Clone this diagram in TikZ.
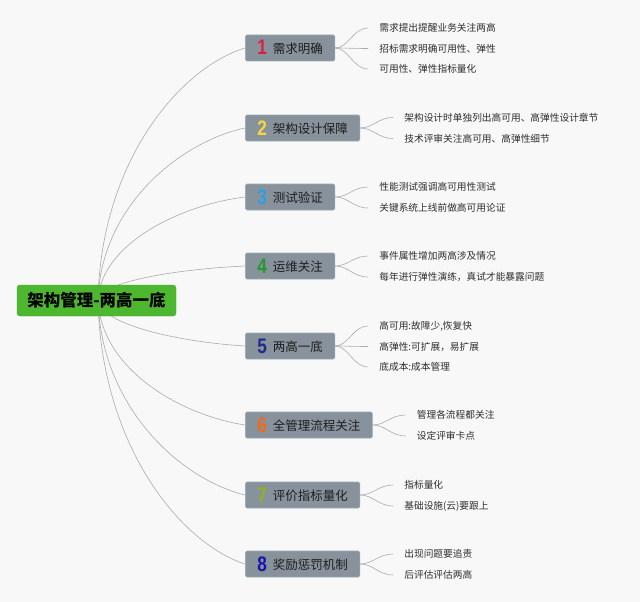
\documentclass[tikz,border=0pt]{standalone}
\usepackage{fontspec}
\usepackage{graphicx}
\setmainfont{Noto Sans CJK SC}
\newfontfamily\numfont{Liberation Sans}
\usetikzlibrary{calc}
\definecolor{bgcol}{HTML}{F8F8F8}
\definecolor{boxfill}{HTML}{87929D}
\definecolor{boxedge}{HTML}{9AABB0}
\definecolor{boxtext}{HTML}{1E1E1E}
\definecolor{leaftext}{HTML}{2E2E2E}
\definecolor{linecol}{HTML}{ABABAB}
\definecolor{rootfill}{HTML}{4DB82F}
\definecolor{rootedge}{HTML}{43A828}
\definecolor{dA}{HTML}{D9213F}
\definecolor{dB}{HTML}{F5D63D}
\definecolor{dC}{HTML}{2B9FE3}
\definecolor{dD}{HTML}{229A2C}
\definecolor{dE}{HTML}{1F2B8F}
\definecolor{dF}{HTML}{F06A1A}
\definecolor{dG}{HTML}{8DB517}
\definecolor{dH}{HTML}{1B12A8}
\newcommand\bigdigit[2]{\raisebox{-1.5pt}{\scalebox{0.82}[1]{\textcolor{#1}{\numfont\fontsize{21}{21}\selectfont\bfseries #2}}}\hspace{6pt}}
\pgfdeclarelayer{bglayer}
\pgfdeclarelayer{linelayer}
\pgfsetlayers{bglayer,linelayer,main}
\begin{document}
\begin{tikzpicture}[x=1pt,y=-1pt,
  branchbox/.style={draw=boxedge, fill=boxfill, line width=0.6pt, rounded corners=1.5pt,
    minimum height=26pt, inner xsep=12pt, inner ysep=0pt, text height=11pt, text depth=0pt,
    anchor=west, font=\fontsize{12.5}{13}\selectfont, text=boxtext},
  leafnode/.style={anchor=west, inner xsep=11pt, inner ysep=0pt,
    font=\fontsize{9.7}{10}\selectfont, text=leaftext},
  rootbox/.style={draw=rootedge, fill=rootfill, rounded corners=3pt, minimum width=159pt,
    minimum height=31pt, inner sep=0pt, font=\fontsize{16.5}{17}\selectfont\bfseries, text=black},
  mainline/.style={draw=linecol, line width=0.6pt},
  subline/.style={draw=linecol, line width=0.6pt}
]
\begin{pgfonlayer}{bglayer}
\fill[bgcol] (0,0) rectangle (640,602);
\end{pgfonlayer}
\useasboundingbox (0,0) rectangle (640,602);

% root
\node[rootbox] (root) at (96.5,300.5) {架构管理-两高一底};
\coordinate (hub) at (98,300);

% branches
\node[branchbox] (b1) at (245,48)  {\bigdigit{dA}{1}需求明确};
\node[branchbox] (b2) at (245,128) {\bigdigit{dB}{2}架构设计保障};
\node[branchbox] (b3) at (245,197) {\bigdigit{dC}{3}测试验证};
\node[branchbox] (b4) at (245,266) {\bigdigit{dD}{4}运维关注};
\node[branchbox] (b5) at (245,346) {\bigdigit{dE}{5}两高一底};
\node[branchbox] (b6) at (245,425) {\bigdigit{dF}{6}全管理流程关注};
\node[branchbox] (b7) at (245,495) {\bigdigit{dG}{7}评价指标量化};
\node[branchbox] (b8) at (245,564) {\bigdigit{dH}{8}奖励惩罚机制};

% leaves
\node[leafnode] (l11) at ($(b1.east)+(33,-20)$) {需求提出提醒业务关注两高};
\node[leafnode] (l12) at ($(b1.east)+(33,0.5)$) {招标需求明确可用性、弹性};
\node[leafnode] (l13) at ($(b1.east)+(33,21)$) {可用性、弹性指标量化};

\node[leafnode] (l21) at ($(b2.east)+(33,-10.5)$) {架构设计时单独列出高可用、高弹性设计章节};
\node[leafnode] (l22) at ($(b2.east)+(33,10.5)$) {技术评审关注高可用、高弹性细节};

\node[leafnode] (l31) at ($(b3.east)+(33,-10)$) {性能测试强调高可用性测试};
\node[leafnode] (l32) at ($(b3.east)+(33,11)$) {关键系统上线前做高可用论证};

\node[leafnode] (l41) at ($(b4.east)+(33,-10)$) {事件属性增加两高涉及情况};
\node[leafnode] (l42) at ($(b4.east)+(33,11)$) {每年进行弹性演练，真试才能暴露问题};

\node[leafnode] (l51) at ($(b5.east)+(33,-20)$) {高可用:故障少,恢复快};
\node[leafnode] (l52) at ($(b5.east)+(33,0.5)$) {高弹性:可扩展，易扩展};
\node[leafnode] (l53) at ($(b5.east)+(33,21)$) {底成本:成本管理};

\node[leafnode] (l61) at ($(b6.east)+(33,-10)$) {管理各流程都关注};
\node[leafnode] (l62) at ($(b6.east)+(33,11)$) {设定评审卡点};

\node[leafnode] (l71) at ($(b7.east)+(33,-10)$) {指标量化};
\node[leafnode] (l72) at ($(b7.east)+(33,11)$) {基础设施(云)要跟上};

\node[leafnode] (l81) at ($(b8.east)+(33,-10)$) {出现问题要追责};
\node[leafnode] (l82) at ($(b8.east)+(33,11)$) {后评估评估两高};

\begin{pgfonlayer}{linelayer}
% main connectors: hub at y=300
\draw[mainline] (hub) .. controls +(3,-139) and +(-65,20) .. (b1.west);
\draw[mainline] (hub) .. controls +(3,-94) and +(-65,14) .. (b2.west);
\draw[mainline] (hub) .. controls +(3,-56) and +(-65,8) .. (b3.west);
\draw[mainline] (hub) .. controls +(3,-19) and +(-65,3) .. (b4.west);
\draw[mainline] (hub) .. controls +(3,25) and +(-65,-4) .. (b5.west);
\draw[mainline] (hub) .. controls +(3,69) and +(-65,-10) .. (b6.west);
\draw[mainline] (hub) .. controls +(3,107) and +(-65,-16) .. (b7.west);
\draw[mainline] (hub) .. controls +(3,145) and +(-65,-21) .. (b8.west);

% sub connectors
\foreach \b/\l in {b1/l11,b1/l12,b1/l13,b2/l21,b2/l22,b3/l31,b3/l32,b4/l41,b4/l42,
                   b5/l51,b5/l52,b5/l53,b6/l61,b6/l62,b7/l71,b7/l72,b8/l81,b8/l82}
  \draw[subline] (\b.east) .. controls +(13,0) and +(-15,0) .. (\l.west);
\end{pgfonlayer}
\end{tikzpicture}
\end{document}
